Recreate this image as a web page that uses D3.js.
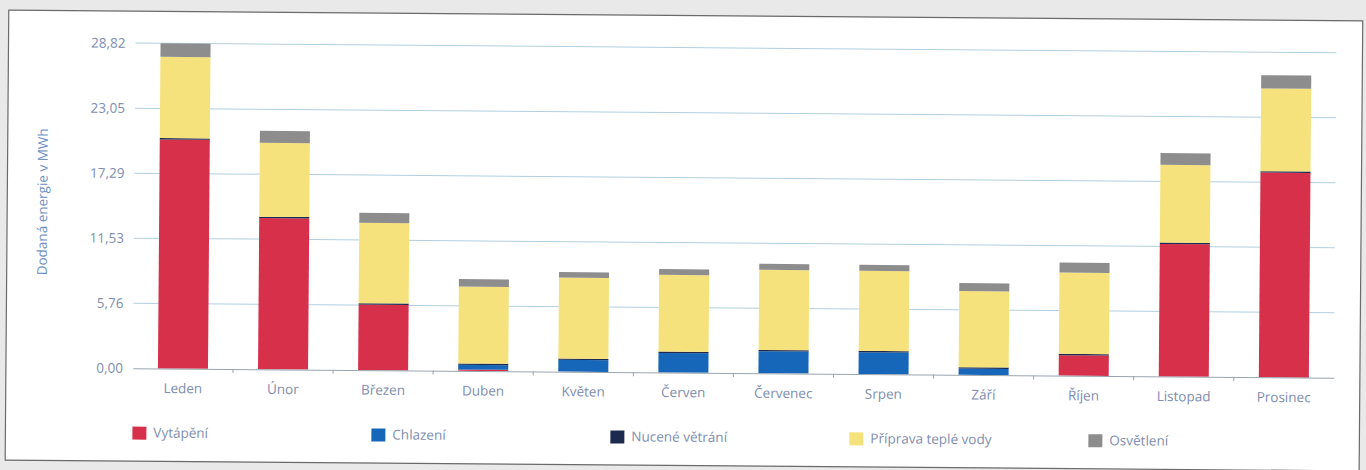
<!DOCTYPE html>
<html>
<head>
<meta charset="utf-8">
<script src="https://cdn.jsdelivr.net/npm/d3@7"></script>
<style>
  html, body { margin: 0; padding: 0; background: #e9e9e9; }
  svg { display: block; }
  text { font-family: "Open Sans", "Noto Sans", sans-serif; }
</style>
</head>
<body>
<svg id="chart" width="1366" height="470"></svg>
<script>
// ---- data ----
const months = ["Leden", "Únor", "Březen", "Duben", "Květen", "Červen", "Červenec", "Srpen", "Září", "Říjen", "Listopad", "Prosinec"];
const seriesNames = ["Vytápění", "Chlazení", "Nucené větrání", "Příprava teplé vody", "Osvětlení"];
const heating     = [20.3, 13.4, 5.8, 0.12, 0, 0, 0, 0, 0, 1.81, 11.75, 18.15];
const cooling     = [0, 0, 0, 0.41, 1.04, 1.73, 1.95, 1.94, 0.56, 0, 0, 0];
const ventilation = [0.12, 0.12, 0.12, 0.12, 0.12, 0.12, 0.12, 0.12, 0.12, 0.12, 0.12, 0.12];
const hotWater    = [7.2, 6.55, 7.13, 6.82, 7.18, 6.8, 7.1, 7.09, 6.74, 7.21, 6.89, 7.33];
const lighting    = [1.2, 1.06, 0.89, 0.66, 0.48, 0.51, 0.53, 0.53, 0.71, 0.89, 1.04, 1.18];
const yTicks      = [0, 5.76, 11.53, 17.29, 23.05, 28.82];
const yTitle      = "Dodaná energie v MWh";

const colors = ["#d7304b", "#1667b9", "#1b2a4e", "#f6e27c", "#8d8d8d"];

// ---- table ----
const rows = months.map((m, i) => ({
  month: m,
  "Vytápění": heating[i],
  "Chlazení": cooling[i],
  "Nucené větrání": ventilation[i],
  "Příprava teplé vody": hotWater[i],
  "Osvětlení": lighting[i]
}));

const svg = d3.select("#chart");
// scanned page: slightly rotated white sheet
const sheet = svg.append("g").attr("transform", "rotate(0.46, 683, 235)");

sheet.append("rect")
  .attr("x", 7).attr("y", 15.5).attr("width", 1354).attr("height", 450)
  .attr("fill", "#ffffff").attr("stroke", "#6a6a6a").attr("stroke-width", 1.2);

const margin = { left: 134, top: 47.5 };
const plotW = 1335 - margin.left;
const y0 = 372.6;

const x = d3.scaleBand().domain(months).range([margin.left, margin.left + plotW]).paddingInner(0.5).paddingOuter(0.25);
const y = d3.scaleLinear().domain([0, 28.82]).range([y0, margin.top]);

// gridlines
const grid = sheet.append("g");
grid.selectAll("line").data(yTicks.filter(d => d > 0)).join("line")
  .attr("x1", margin.left).attr("x2", margin.left + plotW)
  .attr("y1", d => y(d)).attr("y2", d => y(d))
  .attr("stroke", "#b2cfdf").attr("stroke-width", 1);

// y axis labels
const fmt = d => d.toFixed(2).replace(".", ",");
const yAxis = sheet.append("g").attr("transform", `translate(${margin.left},0)`)
  .call(d3.axisLeft(y).tickValues(yTicks).tickFormat(fmt).tickSize(0).tickPadding(10));
yAxis.select(".domain").remove();
yAxis.selectAll("text").attr("fill", "#7e8db0").attr("font-size", 13.5);

// stacked bars
const stack = d3.stack().keys(seriesNames);
const layers = stack(rows);
sheet.append("g").selectAll("g").data(layers).join("g")
  .attr("fill", (d, i) => colors[i])
  .selectAll("rect").data(d => d).join("rect")
  .attr("x", d => x(d.data.month))
  .attr("width", x.bandwidth())
  .attr("y", d => y(d[1]))
  .attr("height", d => Math.max(0, y(d[0]) - y(d[1])));

// x axis
const xAxisBand = d3.scaleBand().domain(months).range([margin.left, margin.left + plotW]);
const xAxis = sheet.append("g").attr("transform", `translate(0,${y0})`)
  .call(d3.axisBottom(xAxisBand).tickSize(0).tickPadding(15));
xAxis.select(".domain").attr("stroke", "#9aa4ae");
xAxis.selectAll("text").attr("fill", "#7e8db0").attr("font-size", 13.5);
// small separators between categories
xAxis.append("g").selectAll("line").data(months.slice(1)).join("line")
  .attr("x1", d => xAxisBand(d)).attr("x2", d => xAxisBand(d))
  .attr("y1", 0).attr("y2", 4).attr("stroke", "#9aa4ae");

// y title
sheet.append("text")
  .attr("transform", `translate(47,207) rotate(-90)`)
  .attr("text-anchor", "middle")
  .attr("fill", "#6d8fc4").attr("font-size", 13.5)
  .text(yTitle);

// legend
const legend = sheet.append("g").attr("transform", "translate(134,431)");
const li = legend.selectAll("g").data(seriesNames).join("g")
  .attr("transform", (d, i) => `translate(${i * 239},0)`);
li.append("rect").attr("width", 14).attr("height", 13).attr("fill", (d, i) => colors[i]);
li.append("text").attr("x", 21).attr("y", 6).attr("dy", "0.35em")
  .attr("fill", "#7e8db0").attr("font-size", 13.5).text(d => d);
</script>
</body>
</html>
